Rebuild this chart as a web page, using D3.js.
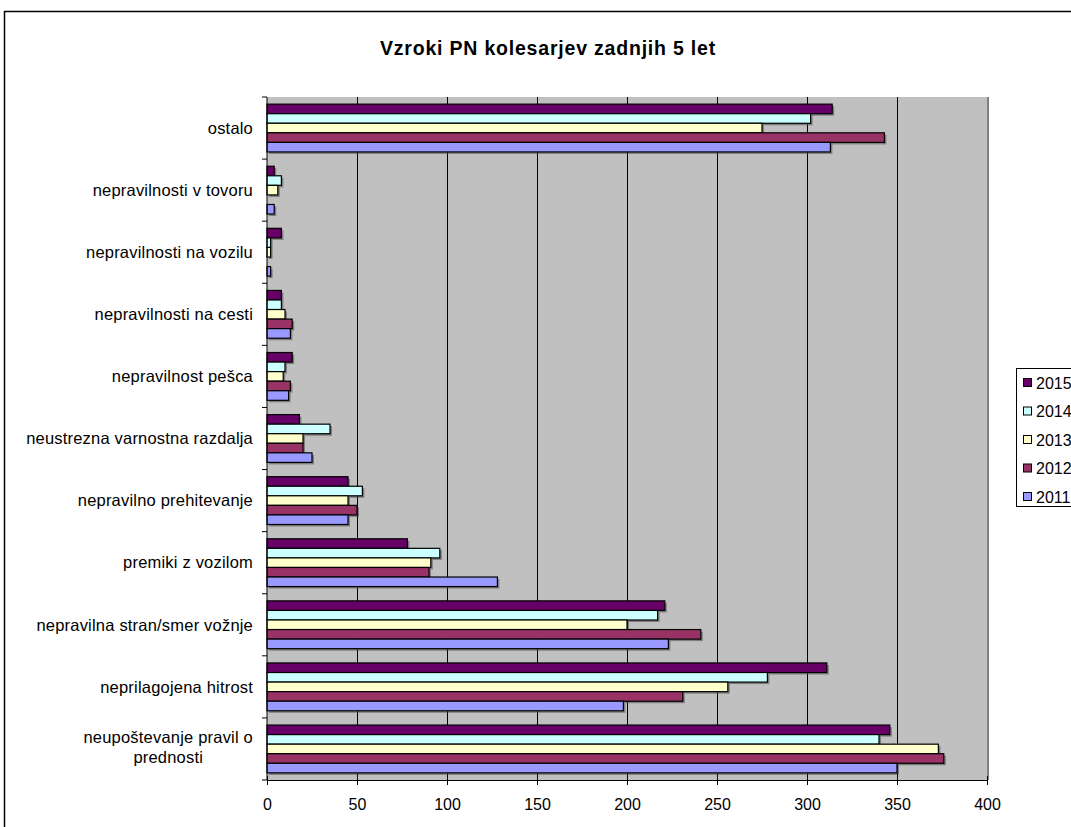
<!DOCTYPE html>
<html>
<head>
<meta charset="utf-8">
<script src="https://cdn.jsdelivr.net/npm/d3@7/dist/d3.min.js"></script>
<style>
  html, body { margin: 0; padding: 0; background: #fff; }
  svg { display: block; font-family: "Liberation Sans", Arial, sans-serif; }
</style>
</head>
<body>
<svg id="chart" width="1071" height="827"></svg>
<script>
// Categories, top to bottom
const categories = [
  "ostalo",
  "nepravilnosti v tovoru",
  "nepravilnosti na vozilu",
  "nepravilnosti na cesti",
  "nepravilnost pešca",
  "neustrezna varnostna razdalja",
  "nepravilno prehitevanje",
  "premiki z vozilom",
  "nepravilna stran/smer vožnje",
  "neprilagojena hitrost",
  "neupoštevanje pravil o prednosti"
];
const years = ["2015", "2014", "2013", "2012", "2011"];
const values2015 = [314, 4, 8, 8, 14, 18, 45, 78, 221, 311, 346];
const values2014 = [302, 8, 2, 8, 10, 35, 53, 96, 217, 278, 340];
const values2013 = [275, 6, 2, 10, 9, 20, 45, 91, 200, 256, 373];
const values2012 = [343, 0, 0, 14, 13, 20, 50, 90, 241, 231, 376];
const values2011 = [313, 4, 2, 13, 12, 25, 45, 128, 223, 198, 350];
const seriesValues = [values2015, values2014, values2013, values2012, values2011];
const colors = ["#660066", "#CCFFFF", "#FFFFCC", "#993366", "#9999FF"];
const xTicks = [0, 50, 100, 150, 200, 250, 300, 350, 400];
const title = "Vzroki PN kolesarjev zadnjih 5 let";

const svg = d3.select("#chart");

// outer chart frame
svg.append("rect").attr("x", 4.5).attr("y", 11.5).attr("width", 1080).attr("height", 830)
  .attr("fill", "#fff").attr("stroke", "#000").attr("stroke-width", 1.5);

const plot = { left: 267, top: 97, right: 987, bottom: 780 };

const x = d3.scaleLinear().domain([0, 400]).range([plot.left, plot.right]);
const y0 = d3.scaleBand().domain(categories).range([plot.top, plot.bottom]).paddingInner(0.23).paddingOuter(0.115);
const y1 = d3.scaleBand().domain(years).range([0, y0.bandwidth()]);

// plot background
svg.append("rect").attr("x", plot.left).attr("y", plot.top)
  .attr("width", plot.right - plot.left).attr("height", plot.bottom - plot.top)
  .attr("fill", "#C0C0C0");
svg.append("line").attr("x1", plot.right + 1).attr("x2", plot.right + 1)
  .attr("y1", plot.top).attr("y2", plot.bottom).attr("stroke", "#808080").attr("stroke-width", 2);

// grid lines
svg.append("g").selectAll("line").data(xTicks.slice(1, -1)).join("line")
  .attr("x1", d => Math.round(x(d)) + 0.5).attr("x2", d => Math.round(x(d)) + 0.5)
  .attr("y1", plot.top).attr("y2", plot.bottom)
  .attr("stroke", "#000").attr("stroke-width", 1);

// bars
const groups = svg.append("g").selectAll("g").data(categories).join("g")
  .attr("transform", d => `translate(0,${y0(d)})`);

groups.each(function(cat, ci) {
  const g = d3.select(this);
  years.forEach((yr, si) => {
    const v = seriesValues[si][ci];
    if (v <= 0) return;
    const w = x(v) - x(0);
    g.append("rect")
      .attr("x", x(0) + 2).attr("y", y1(yr) + 2)
      .attr("width", w).attr("height", y1.bandwidth())
      .attr("fill", "#505050").attr("opacity", 0.6);
  });
  years.forEach((yr, si) => {
    const v = seriesValues[si][ci];
    if (v <= 0) return;
    g.append("rect")
      .attr("x", x(0)).attr("y", y1(yr))
      .attr("width", x(v) - x(0)).attr("height", y1.bandwidth())
      .attr("fill", colors[si]).attr("stroke", "#000").attr("stroke-width", 1.2);
  });
});

// x axis
const xAxis = d3.axisBottom(x).tickValues(xTicks).tickSize(5).tickSizeOuter(0).tickPadding(14);
const gx = svg.append("g").attr("transform", `translate(0,${plot.bottom})`).call(xAxis);
gx.select(".domain").attr("stroke", "#000");
gx.selectAll(".tick line").attr("stroke", "#000").attr("y1", -4);
gx.selectAll(".tick text").attr("font-size", "16px").attr("fill", "#000")
  .attr("font-family", "Liberation Sans, Arial, sans-serif");

// y axis line and category ticks
svg.append("line").attr("x1", plot.left).attr("x2", plot.left)
  .attr("y1", plot.top).attr("y2", plot.bottom).attr("stroke", "#000");
const boundaries = d3.range(categories.length + 1).map(i => plot.top + i * (plot.bottom - plot.top) / categories.length);
svg.append("g").selectAll("line").data(boundaries).join("line")
  .attr("x1", plot.left - 5).attr("x2", plot.left)
  .attr("y1", d => d).attr("y2", d => d).attr("stroke", "#000");

// category labels
const labelG = svg.append("g").attr("font-size", "16.5px").attr("letter-spacing", "0.2px").attr("fill", "#000");
categories.forEach(cat => {
  const cy = y0(cat) + y0.bandwidth() / 2;
  if (cat === "neupoštevanje pravil o prednosti") {
    const lines = ["neupoštevanje pravil o", "prednosti"];
    const t1 = labelG.append("text").attr("x", 253).attr("y", cy - 6).attr("text-anchor", "end").text(lines[0]);
    const wl = t1.node().getComputedTextLength();
    labelG.append("text").attr("x", 253 - wl / 2).attr("y", cy + 14).attr("text-anchor", "middle").text(lines[1]);
  } else {
    labelG.append("text").attr("x", 253).attr("y", cy).attr("dy", "0.35em")
      .attr("text-anchor", "end").text(cat);
  }
});

// title
svg.append("text").attr("x", 548).attr("y", 55).attr("text-anchor", "middle")
  .attr("font-size", "19.5px").attr("font-weight", "bold").attr("letter-spacing", "0.8px").text(title);

// legend
const leg = svg.append("g");
leg.append("rect").attr("x", 1016.5).attr("y", 368.5).attr("width", 80).attr("height", 138)
  .attr("fill", "#fff").attr("stroke", "#000");
years.forEach((yr, i) => {
  const ly = 383 + i * 28.5;
  leg.append("rect").attr("x", 1023.5).attr("y", ly - 4.5).attr("width", 8).attr("height", 8)
    .attr("fill", colors[i]).attr("stroke", "#000");
  leg.append("text").attr("x", 1036).attr("y", ly).attr("dy", "0.35em")
    .attr("font-size", "16px").text(yr);
});
</script>
</body>
</html>
